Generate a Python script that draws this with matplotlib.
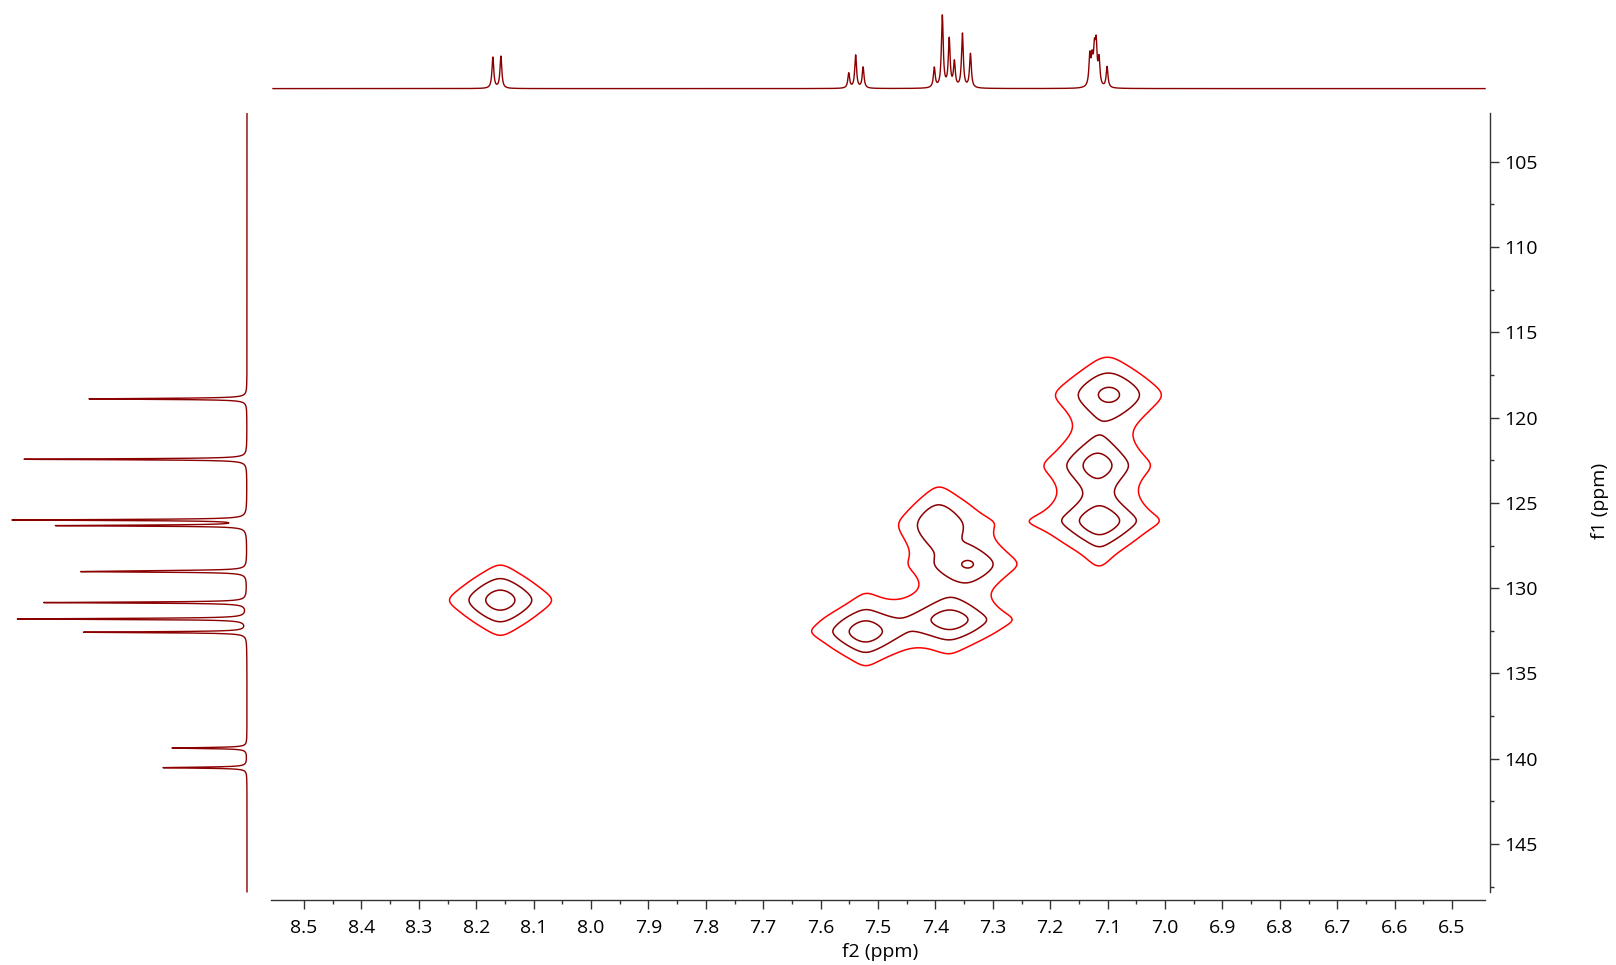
import numpy as np
import matplotlib
matplotlib.use('Agg')
import matplotlib.pyplot as plt
from matplotlib.ticker import MultipleLocator, FixedLocator, FormatStrFormatter

plt.rcParams['font.family'] = ['Open Sans', 'DejaVu Sans']

# 1H projection (f2): peak positions (ppm) and heights (px above baseline)
h_shift = [8.171, 8.157,
           7.551, 7.539, 7.526,
           7.402, 7.388, 7.376, 7.367, 7.353, 7.339,
           7.131, 7.127, 7.123, 7.120, 7.115, 7.101]
h_height = [31, 32,
            15, 33, 21,
            20, 72, 48, 25, 54, 34,
            30, 24, 32, 38, 26, 21]

# 13C projection (f1): peak positions (ppm) and heights (px)
c_shift = [118.90, 122.44, 126.00, 126.33, 128.98, 129.03, 130.84, 131.80, 132.58, 139.37, 140.52]
c_height = [158, 223, 233, 189, 68, 143, 203, 229, 163, 75, 84]

# HSQC cross peaks: f2, f1, intensity, widths
xp_f2 = [8.158, 7.522, 7.375, 7.395, 7.343, 7.097, 7.118, 7.114]
xp_f1 = [130.70, 132.55, 131.85, 126.30, 128.60, 118.65, 122.80, 126.05]
xp_int = [1.0, 1.15, 1.15, 0.55, 0.60, 0.73, 1.0, 1.6]
xp_wx = [0.0325, 0.029, 0.031, 0.030, 0.032, 0.037, 0.028, 0.026]
xp_wy = [0.75, 0.62, 0.55, 1.00, 0.70, 0.88, 0.78, 0.60]

levels = [0.122, 0.265, 0.625]
level_colors = ['#ff0000', '#8b0000', '#8b0000']
line_col = '#8b0000'

W, H = 1616, 965
fig = plt.figure(figsize=(W / 100, H / 100), dpi=100)


def box(x0, y0, x1, y1):
    return [x0 / W, 1 - y1 / H, (x1 - x0) / W, (y1 - y0) / H]


def lorentz(x, centres, heights, hw):
    y = np.zeros_like(x)
    for c, h in zip(centres, heights):
        y += h / (1 + ((x - c) / hw) ** 2)
    return y


x_lim = (8.5575, 6.4339)
y_lim = (148.28, 102.14)

# main 2D axes
ax = fig.add_axes(box(271, 113, 1490, 900))
f2 = np.linspace(8.56, 6.43, 1600)
f1 = np.linspace(102.0, 148.4, 1000)
X, Y = np.meshgrid(f2, f1)
Z = np.zeros_like(X)
for a, b, s, wx, wy in zip(xp_f2, xp_f1, xp_int, xp_wx, xp_wy):
    u = ((X - a) / wx) ** 2
    v = ((Y - b) / wy) ** 2
    # mostly lorentzian product, a bit of elliptical shape
    Z += s * (0.6 / ((1 + u) * (1 + v)) + 0.4 / (1 + u + v))
ax.contour(X, Y, Z, levels=levels, colors=level_colors, linewidths=1.1)

ax.set_xlim(*x_lim)
ax.set_ylim(*y_lim)
for s in ['top', 'left']:
    ax.spines[s].set_visible(False)
ax.spines['bottom'].set_bounds(8.5575, 6.4426)
ax.spines['right'].set_bounds(102.14, 147.80)
for s in ['bottom', 'right']:
    ax.spines[s].set_color('#333333')
    ax.spines[s].set_linewidth(1.0)
ax.yaxis.tick_right()
ax.xaxis.set_major_locator(MultipleLocator(0.1))
ax.xaxis.set_minor_locator(FixedLocator(np.arange(6.55, 8.5, 0.1)))
ax.xaxis.set_major_formatter(FormatStrFormatter('%.1f'))
ax.yaxis.set_major_locator(MultipleLocator(5))
ax.yaxis.set_minor_locator(FixedLocator(np.arange(107.5, 148, 5)))
ax.tick_params(which='major', length=6.3, width=1.0, color='#333333', labelsize=14)
ax.tick_params(which='minor', length=3.0, width=1.0, color='#333333')
ax.tick_params(axis='x', which='major', pad=7.5)
ax.tick_params(axis='y', which='major', pad=4)

fig.text(880 / W, 1 - 952 / H, 'f2 (ppm)', ha='center', va='center', fontsize=14)
fig.text(1600 / W, 1 - 501 / H, 'f1 (ppm)', ha='center', va='center', fontsize=14, rotation=90)

# top 1H projection
ax_top = fig.add_axes(box(271, 5, 1490, 100))
xs = np.linspace(8.554, 6.4426, 8000)
ax_top.plot(xs, lorentz(xs, h_shift, h_height, 0.0019), color=line_col, lw=1.0)
ax_top.set_xlim(*x_lim)
ax_top.set_ylim(-11.4, 83.6)
ax_top.axis('off')

# left 13C projection
ax_left = fig.add_axes(box(0, 113, 260, 900))
ys = np.linspace(102.14, 147.80, 20000)
ax_left.plot(lorentz(ys, c_shift, c_height, 0.035), ys, color=line_col, lw=1.0)
ax_left.set_xlim(247, -13)
ax_left.set_ylim(*y_lim)
ax_left.axis('off')

fig.savefig('out.png', dpi=100)
